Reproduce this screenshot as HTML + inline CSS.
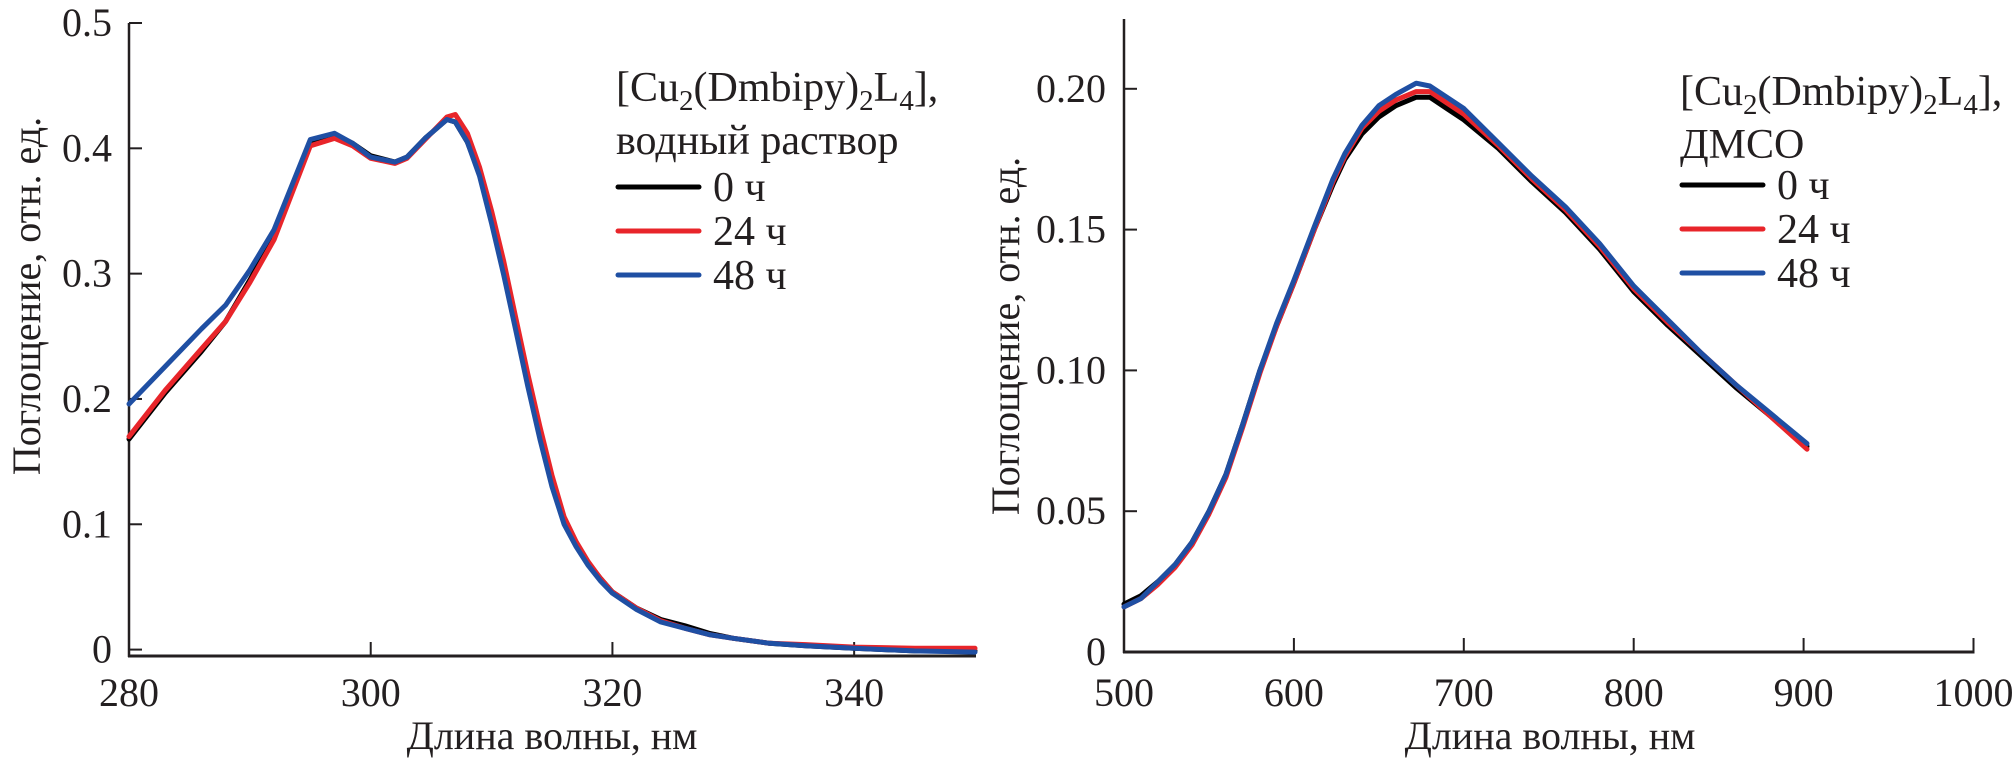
<!DOCTYPE html>
<html><head><meta charset="utf-8"><style>
html,body{margin:0;padding:0;background:#fff}
svg{display:block}
text{font-family:"Liberation Serif",serif;fill:#231f20}
</style></head><body>
<svg id="c" width="2014" height="763" viewBox="0 0 2014 763" xmlns="http://www.w3.org/2000/svg"></svg>
<script>
const leftX=[280,283,286,288,290,292,295,297,298.5,300,302,303,304.5,306.3,307,308,309,310,311,312,313,314,315,316,317,318,319,320,322,324,326,328,330,333,336,340,345,350];
const leftBlack=[0.168,0.205,0.238,0.262,0.295,0.330,0.405,0.411,0.404,0.394,0.389,0.393,0.408,0.423,0.421,0.405,0.380,0.342,0.301,0.258,0.213,0.171,0.133,0.103,0.085,0.069,0.057,0.046,0.033,0.024,0.019,0.013,0.009,0.005,0.003,0.001,-0.001,-0.001];
const leftRed=[0.170,0.207,0.240,0.262,0.293,0.327,0.402,0.408,0.402,0.392,0.388,0.392,0.407,0.425,0.427,0.412,0.385,0.350,0.310,0.265,0.220,0.178,0.139,0.106,0.086,0.070,0.057,0.046,0.033,0.023,0.017,0.012,0.009,0.005,0.004,0.002,0.001,0.001];
const leftBlue=[0.196,0.226,0.256,0.275,0.303,0.335,0.407,0.412,0.404,0.393,0.389,0.393,0.408,0.423,0.421,0.405,0.378,0.340,0.299,0.255,0.210,0.168,0.130,0.100,0.082,0.067,0.055,0.045,0.032,0.022,0.017,0.012,0.009,0.005,0.003,0.001,-0.001,-0.002];
const leftXTicks=[280,300,320,340];
const leftYTicks=[0,0.1,0.2,0.3,0.4,0.5];
const leftYLabels=["0","0.1","0.2","0.3","0.4","0.5"];

const rightX=[500,510,520,530,540,550,560,570,580,590,600,612,623,630,640,650,660,672,680,690,700,720,740,760,780,800,820,840,860,880,902];
const rightBlack=[0.017,0.020,0.025,0.031,0.039,0.050,0.063,0.081,0.100,0.116,0.131,0.150,0.166,0.175,0.184,0.190,0.194,0.197,0.197,0.193,0.189,0.179,0.167,0.156,0.143,0.128,0.116,0.105,0.094,0.084,0.073];
const rightRed=[0.016,0.019,0.024,0.030,0.038,0.049,0.062,0.080,0.099,0.116,0.131,0.150,0.167,0.176,0.186,0.192,0.196,0.199,0.199,0.195,0.191,0.180,0.168,0.157,0.144,0.129,0.117,0.106,0.095,0.084,0.072];
const rightBlue=[0.016,0.019,0.025,0.031,0.039,0.050,0.063,0.081,0.100,0.117,0.132,0.151,0.168,0.177,0.187,0.194,0.198,0.202,0.201,0.197,0.193,0.181,0.169,0.158,0.145,0.130,0.118,0.106,0.095,0.085,0.074];
const rightXTicks=[500,600,700,800,900,1000];
const rightYTicks=[0,0.05,0.10,0.15,0.20];
const rightYLabels=["0","0.05","0.10","0.15","0.20"];

const legendLabels=["0 ч","24 ч","48 ч"];
const colors=["#000000","#e8252a","#1f4fa3"];

const NS="http://www.w3.org/2000/svg";
const svg=document.getElementById('c');
function mk(tag,attrs,parent){const e=document.createElementNS(NS,tag);for(const k in attrs)e.setAttribute(k,attrs[k]);(parent||svg).appendChild(e);return e;}

function panel(cfg){
  const g=mk('g',{});
  
  
  const sx=v=>cfg.x0+(v-cfg.xmin)/(cfg.xmax-cfg.xmin)*(cfg.x1-cfg.x0);
  const sy=v=>cfg.y0-(v)/(cfg.ymaxTick)*(cfg.y0-cfg.yTop);
  const ya=mk('line',{x1:cfg.x0,y1:cfg.axisTop,x2:cfg.x0,y2:cfg.xAxisY+1,stroke:'#231f20','stroke-width':2.5},g);
  
  
  const xa=mk('line',{x1:cfg.x0-1,y1:cfg.xAxisY,x2:cfg.x1+1,y2:cfg.xAxisY,stroke:'#231f20','stroke-width':3},g);
  
  
  cfg.xticks.forEach(t=>{
    const X=sx(t);
    if(t!==cfg.xmin){
      const l=mk('line',{x1:X,y1:cfg.xAxisY,x2:X,y2:cfg.xAxisY-14,stroke:'#231f20','stroke-width':2},g);
      
      
    }
    const tx=mk('text',{x:X,y:706,'font-size':40,'text-anchor':'middle'},g);
    
    
    tx.textContent=String(t);
  });
  cfg.yticks.forEach((t,i)=>{
    const Y=sy(t);
    const l=mk('line',{x1:cfg.x0,y1:Y,x2:cfg.x0+13,y2:Y,stroke:'#231f20','stroke-width':2},g);
    
    
    const tx=mk('text',{x:cfg.labelRight,y:Y+13,'font-size':40,'text-anchor':'end'},g);
    
    
    tx.textContent=cfg.ylabels[i];
  });
  const xt=mk('text',{x:cfg.xTitleX,y:749,'font-size':40,'text-anchor':'middle'},g);
  
  
  xt.textContent='Длина волны, нм';
  const yt=mk('text',{x:0,y:0,'font-size':40,'text-anchor':'middle',transform:`translate(${cfg.yTitleX},${cfg.yTitleY}) rotate(-90)`},g);
  
  
  yt.textContent='Поглощение, отн. ед.';
  const names=['series-0h','series-24h','series-48h'];
  cfg.series.forEach((s,i)=>{
    const d=cfg.xs.map((v,j)=>(j?'L':'M')+sx(v).toFixed(1)+','+sy(s[j]).toFixed(1)).join(' ');
    const p=mk('path',{d:d,fill:'none',stroke:colors[i],'stroke-width':5,'stroke-linejoin':'round','stroke-linecap':'round'},g);
    
    
  });
  const lg=mk('g',{},g);
  
  
  const t1=mk('text',{x:cfg.legX,y:cfg.legY,'font-size':42},lg);
  
  
  t1.innerHTML='[Cu<tspan font-size="29" dy="9">2</tspan><tspan dy="-9">(Dmbipy)</tspan><tspan font-size="29" dy="9">2</tspan><tspan dy="-9">L</tspan><tspan font-size="29" dy="9">4</tspan><tspan dy="-9">],</tspan>';
  const t2=mk('text',{x:cfg.legX,y:cfg.legY+53,'font-size':42},lg);
  
  
  t2.textContent=cfg.solvent;
  legendLabels.forEach((lab,i)=>{
    const Y=cfg.legLine0+i*44;
    const l=mk('line',{x1:cfg.legX+2,y1:Y,x2:cfg.legX+83,y2:Y,stroke:colors[i],'stroke-width':5,'stroke-linecap':'round'},lg);
    
    
    const tx=mk('text',{x:cfg.legX+97,y:Y+14,'font-size':42},lg);
    
    
    tx.textContent=lab;
  });
}

panel({name:'left-chart-aqueous',x0:129,x1:975,xmin:280,xmax:350,y0:649.6,yTop:23,ymaxTick:0.5,axisTop:23,xAxisY:656,
  xticks:leftXTicks,yticks:leftYTicks,ylabels:leftYLabels,labelRight:112,xTitleX:552,yTitleX:40,yTitleY:296,
  xs:leftX,series:[leftBlack,leftRed,leftBlue],legX:616,legY:101,legLine0:187,solvent:'водный раствор'});
panel({name:'right-chart-dmso',x0:1124,x1:1973.5,xmin:500,xmax:1000,y0:652,yTop:88.8,ymaxTick:0.20,axisTop:19,xAxisY:652,
  xticks:rightXTicks,yticks:rightYTicks,ylabels:rightYLabels,labelRight:1106,xTitleX:1550,yTitleX:1019,yTitleY:336,
  xs:rightX,series:[rightBlack,rightRed,rightBlue],legX:1680,legY:105,legLine0:185,solvent:'ДМСО'});
</script>
</body></html>
